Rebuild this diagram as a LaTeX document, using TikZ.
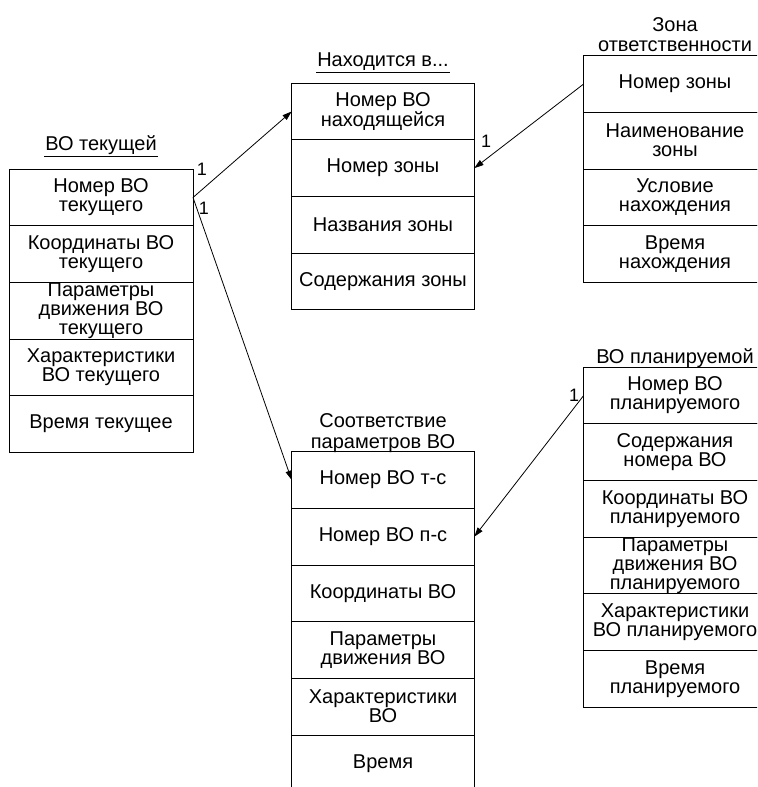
\documentclass[tikz,border=0pt]{standalone}
\usepackage{fontspec}
\setmainfont{Liberation Sans}
\usetikzlibrary{arrows.meta, positioning}
\tikzset{
  field/.style={rectangle, draw, outer sep=0pt, line width=0.6pt, minimum width=137pt, minimum height=42.5pt, align=center, inner sep=0pt, font=\fontsize{15}{14.2}\selectfont},
  title/.style={inner sep=0.5pt, align=center, font=\fontsize{15}{15.5}\selectfont},
  mult/.style={inner sep=0pt, font=\fontsize{13.5}{14}\selectfont},
  arrow/.style={-{Triangle[length=7pt, width=4.5pt]}, line width=0.6pt}
}

\begin{document}
\begin{tikzpicture}[x=0.75pt, y=-0.75pt]
\useasboundingbox (0,0) rectangle (757,787);
\clip (0,0) rectangle (757,787);

% ВО текущей
\node[field, minimum width=138pt] (tek1) at (101,197.5) {Номер ВО\\ текущего};
\node[field, minimum width=138pt, below=0pt of tek1] (tek2) {Координаты ВО\\ текущего};
\node[field, minimum width=138pt, below=0pt of tek2] (tek3) {Параметры\\ движения ВО\\ текущего};
\node[field, minimum width=138pt, below=0pt of tek3] (tek4) {Характеристики\\ ВО текущего};
\node[field, minimum width=138pt, below=0pt of tek4] (tek5) {Время текущее};
\node[title, above=10pt of tek1] (tektitle) {ВО текущей};
\draw (tektitle.south west) -- (tektitle.south east);

% Находится в...
\node[field] (nah1) at (383,111.5) {Номер ВО\\ находящейся};
\node[field, below=0pt of nah1] (nah2) {Номер зоны};
\node[field, below=0pt of nah2] (nah3) {Названия зоны};
\node[field, below=0pt of nah3] (nah4) {Содержания зоны};
\node[title, above=8.5pt of nah1] (nahtitle) {Находится в...};
\draw (nahtitle.south west) -- (nahtitle.south east);

% Зона ответственности
\node[field] (zona1) at (675,84) {Номер зоны};
\node[field, below=0pt of zona1] (zona2) {Наименование\\ зоны};
\node[field, below=0pt of zona2] (zona3) {Условие\\ нахождения};
\node[field, below=0pt of zona3] (zona4) {Время\\ нахождения};
\node[title, above=2pt of zona1] (zonatitle) {Зона\\ ответственности};

% Соответствие параметров ВО
\node[field] (sootv1) at (383,480) {Номер ВО т-с};
\node[field, below=0pt of sootv1] (sootv2) {Номер ВО п-с};
\node[field, below=0pt of sootv2] (sootv3) {Координаты ВО};
\node[field, below=0pt of sootv3] (sootv4) {Параметры\\ движения ВО};
\node[field, below=0pt of sootv4] (sootv5) {Характеристики\\ ВО};
\node[field, below=0pt of sootv5] (sootv6) {Время};
\node[title, above=-1.5pt of sootv1] (sootvtitle) {Соответствие\\ параметров ВО};

% ВО планируемой
\node[field] (plan1) at (675,395.5) {Номер ВО\\ планируемого};
\node[field, below=0pt of plan1] (plan2) {Содержания\\ номера ВО};
\node[field, below=0pt of plan2] (plan3) {Координаты ВО\\ планируемого};
\node[field, below=0pt of plan3] (plan4) {Параметры\\ движения ВО\\ планируемого};
\node[field, below=0pt of plan4] (plan5) {Характеристики\\ ВО планируемого};
\node[field, below=0pt of plan5] (plan6) {Время\\ планируемого};
\node[title, above=-0.75pt of plan1] (plantitle) {ВО планируемой};

% Связи
\draw[arrow] (tek1.east) -- (nah1.west);
\draw[arrow] (tek1.east) -- (sootv1.west);
\draw[arrow] (zona1.west) -- (nah2.east);
\draw[arrow] (plan1.west) -- (sootv2.east);

% Кратности
\node[mult] (m1) at (202,169) {1};
\node[mult] (m2) at (204,208) {1};
\node[mult] (m3) at (486,141) {1};
\node[mult] (m4) at (574,395) {1};

\end{tikzpicture}
\end{document}
